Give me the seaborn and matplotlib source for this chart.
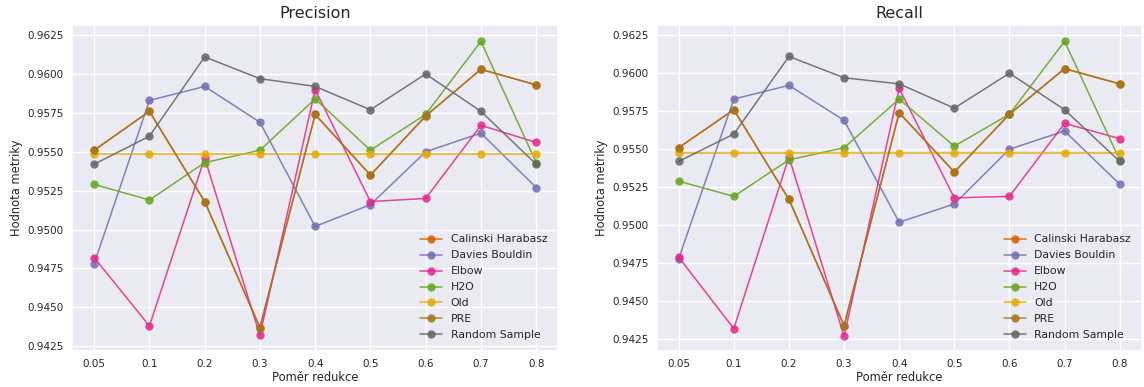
import matplotlib
matplotlib.use("Agg")
import matplotlib.pyplot as plt
import seaborn as sns
import pandas as pd
from matplotlib.ticker import FormatStrFormatter, MultipleLocator

ratios = ['0.05', '0.1', '0.2', '0.3', '0.4', '0.5', '0.6', '0.7', '0.8']
methods = ['Calinski Harabasz', 'Davies Bouldin', 'Elbow', 'H2O', 'Old', 'PRE', 'Random Sample']

prec_calinski = [0.9551, 0.9576, 0.9518, 0.9437, 0.9574, 0.9535, 0.9573, 0.9603, 0.9593]
prec_davies = [0.9478, 0.9583, 0.9592, 0.9569, 0.9502, 0.9516, 0.9550, 0.9562, 0.9527]
prec_elbow = [0.9482, 0.9438, 0.9546, 0.9432, 0.9590, 0.9518, 0.9520, 0.9567, 0.9556]
prec_h2o = [0.9529, 0.9519, 0.9543, 0.9551, 0.9584, 0.9551, 0.9574, 0.9621, 0.9543]
prec_old = [0.95485] * 9
prec_pre = [0.9551, 0.9576, 0.9518, 0.9437, 0.9574, 0.9535, 0.9573, 0.9603, 0.9593]
prec_random = [0.9542, 0.9560, 0.9611, 0.9597, 0.9592, 0.9577, 0.9600, 0.9576, 0.9542]

rec_calinski = [0.9551, 0.9576, 0.9517, 0.9434, 0.9574, 0.9535, 0.9573, 0.9603, 0.9593]
rec_davies = [0.9478, 0.9583, 0.9592, 0.9569, 0.9502, 0.9514, 0.9550, 0.9562, 0.9527]
rec_elbow = [0.9479, 0.9432, 0.9545, 0.9427, 0.9590, 0.9518, 0.9519, 0.9567, 0.9557]
rec_h2o = [0.9529, 0.9519, 0.9543, 0.9551, 0.9583, 0.9552, 0.9573, 0.9621, 0.9543]
rec_old = [0.95472] * 9
rec_pre = [0.9551, 0.9576, 0.9517, 0.9434, 0.9574, 0.9535, 0.9573, 0.9603, 0.9593]
rec_random = [0.9542, 0.9560, 0.9611, 0.9597, 0.9593, 0.9577, 0.9600, 0.9576, 0.9542]

colors = ['#d95f02', '#7570b3', '#e7298a', '#66a61e', '#e6ab02', '#a6761d', '#666666']

def long_df(series):
    rows = []
    for m, vals in zip(methods, series):
        for r, v in zip(ratios, vals):
            rows.append({'Poměr redukce': r, 'Hodnota metriky': v, 'method': m})
    return pd.DataFrame(rows)

prec_df = long_df([prec_calinski, prec_davies, prec_elbow, prec_h2o, prec_old, prec_pre, prec_random])
rec_df = long_df([rec_calinski, rec_davies, rec_elbow, rec_h2o, rec_old, rec_pre, rec_random])

sns.set_theme(style='darkgrid')
plt.rcParams['font.family'] = ['DejaVu Sans']

fig = plt.figure(figsize=(11.44, 3.87), dpi=100)
ax1 = fig.add_axes([0.063, 0.093, 0.425, 0.842])
ax2 = fig.add_axes([0.574, 0.093, 0.424, 0.842])

for ax, df, title, ylim in [(ax1, prec_df, 'Precision', (0.94219, 0.96314)),
                            (ax2, rec_df, 'Recall', (0.94173, 0.96316))]:
    sns.lineplot(data=df, x='Poměr redukce', y='Hodnota metriky', hue='method',
                 hue_order=methods, palette=colors, marker='o', markersize=6,
                 markeredgewidth=0, linewidth=1.1, alpha=0.88, ax=ax, sort=False)
    ax.set_title(title, fontsize=11.5, pad=5)
    ax.set_ylim(*ylim)
    ax.yaxis.set_major_locator(MultipleLocator(0.0025))
    ax.yaxis.set_major_formatter(FormatStrFormatter('%.4f'))
    ax.tick_params(axis='x', labelsize=7.5, length=0, pad=5.5)
    ax.tick_params(axis='y', labelsize=7.5, length=0, pad=6)
    ax.set_xlabel('Poměr redukce', fontsize=8.3, labelpad=2)
    ax.set_ylabel('Hodnota metriky', fontsize=8.3, labelpad=3)
    leg = ax.legend(loc='lower right', fontsize=7.8, frameon=False,
                    handlelength=2.0, labelspacing=0.55, borderaxespad=0.6)

fig.savefig('out.png', dpi=100)
